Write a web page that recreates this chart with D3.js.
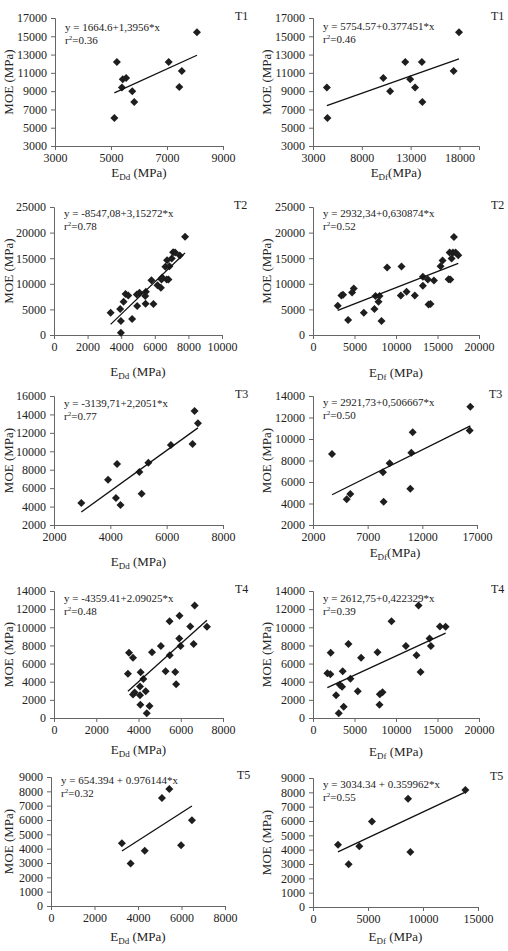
<!DOCTYPE html>
<html>
<head>
<meta charset="utf-8">
<script src="https://cdn.jsdelivr.net/npm/d3@7"></script>
<style>
  body { margin: 0; background: #fff; }
  svg text { font-family: "Liberation Serif", "Times New Roman", serif; fill: #222; }
</style>
</head>
<body>
<div id="chart"></div>
<script>
// data: MOE against E_Dd (left) and E_Df (right) for T1..T5
const xT1dd = [8070, 5210, 7060, 7530, 5540, 5420, 5390, 7440, 5760, 5830, 5120];
const yT1dd = [15450, 12200, 12200, 11200, 10450, 10300, 9400, 9450, 9000, 7800, 6050];
const xT1df = [17950, 12450, 14150, 17400, 10200, 12950, 4420, 13450, 10900, 14200, 4480];
const yT1df = [15450, 12200, 12200, 11200, 10450, 10300, 9400, 9400, 9000, 7800, 6050];

const xT2dd = [7800, 7090, 7210, 7490, 7010, 6730, 6630, 6870, 5800, 6440, 6400, 6710, 6810, 6160, 6360,
  4260, 4420, 4140, 3940, 3370, 3980, 4650, 3980, 4930, 5090, 5470, 5430, 5450, 5920, 4950];
const yT2dd = [19200, 16170, 16100, 15520, 14940, 14610, 13310, 13440, 10710, 11230, 10840, 10840, 10840, 9740, 9220,
  7990, 7730, 6490, 5060, 4350, 2730, 3120, 450, 7920, 8250, 8440, 7600, 6100, 6040, 5650];
const xT2df = [2980, 3420, 3620, 4230, 4710, 4910, 6120, 7400, 7530, 8010, 7890, 8250, 8930, 10660, 10580, 11270,
  12270, 13240, 13240, 13840, 13920, 14160, 14570, 15370, 15610, 16340, 16540, 16460, 16860, 17180, 16700, 16980, 17500];
const yT2df = [5710, 7730, 7860, 2920, 8310, 9090, 4350, 5060, 7600, 7600, 6490, 2730, 13180, 13380, 7730, 8440,
  7730, 11360, 9610, 10840, 5970, 6040, 10650, 13440, 14545, 10910, 10840, 16100, 16100, 16100, 14935, 19160, 15580];

const xT3dd = [6990, 7110, 6920, 6150, 5350, 5030, 4240, 3920, 4200, 4360, 5110, 2970];
const yT3dd = [14370, 13030, 10790, 10680, 8760, 7750, 8620, 6920, 4930, 4170, 5400, 4400];
const xT3df = [16390, 16330, 11120, 10990, 9010, 8400, 3740, 10900, 8460, 5410, 5080];
const yT3df = [13010, 10780, 10620, 8730, 7740, 6900, 8600, 5380, 4170, 4880, 4390];

const xT4dd = [6660, 5470, 5940, 6450, 7240, 5930, 6610, 5990, 5060, 4640, 5480, 3550, 3740, 3500, 4100, 5280,
  5740, 4230, 5780, 4070, 4340, 3820, 3740, 4070, 4090, 4520, 4390];
const yT4dd = [12390, 10670, 11260, 10090, 10050, 8770, 8150, 7930, 7930, 7240, 6910, 7200, 6650, 4870, 5050, 5160,
  5080, 4290, 3730, 3470, 2960, 2810, 2590, 2520, 1460, 1320, 510];
const xT4df = [12720, 9460, 15290, 15980, 14040, 4270, 14200, 11190, 7770, 2130, 5790, 12470, 1730, 2090, 3580,
  12960, 4510, 3220, 3500, 5390, 2780, 8370, 8050, 3700, 8010, 3100];
const yT4df = [12390, 10670, 10090, 10050, 8770, 8150, 7930, 7930, 7240, 7200, 6650, 6910, 4930, 4820, 5160,
  5080, 4330, 3670, 3440, 2960, 2520, 2850, 2630, 1240, 1460, 510];

const xT5dd = [5440, 5100, 6480, 3260, 4310, 5980, 3660];
const yT5dd = [8160, 7530, 5990, 4370, 3860, 4230, 2970];
const xT5df = [13850, 8640, 5360, 2270, 4210, 8850, 3240];
const yT5df = [8160, 7550, 5960, 4350, 4230, 3840, 2990];

// regression lines printed on each panel
const intercepts = [1664.6, 5754.57, -8547.08, 2932.34, -3139.71, 2921.73, -4359.41, 2612.75, 654.394, 3034.34];
const slopes = [1.3956, 0.377451, 3.15272, 0.630874, 2.2051, 0.506667, 2.09025, 0.422329, 0.976144, 0.359962];
const equations = [
  'y = 1664.6+1,3956*x', 'y = 5754.57+0.377451*x',
  'y = -8547,08+3,15272*x', 'y = 2932,34+0,630874*x',
  'y = -3139,71+2,2051*x', 'y = 2921,73+0,506667*x',
  'y = -4359.41+2.09025*x', 'y = 2612,75+0,422329*x',
  'y = 654.394 + 0.976144*x', 'y = 3034.34 + 0.359962*x'
];
const r2 = ['0.36', '0.46', '0.78', '0.52', '0.77', '0.50', '0.48', '0.39', '0.32', '0.55'];
const treatments = ['T1', 'T1', 'T2', 'T2', 'T3', 'T3', 'T4', 'T4', 'T5', 'T5'];
const xSubs = ['Dd', 'Df', 'Dd', 'Df', 'Dd', 'Df', 'Dd', 'Df', 'Dd', 'Df'];
const xUnits = [' (MPa)', '(MPa)', ' (MPa)', ' (MPa)', ' (MPa)', '(MPa)', ' (MPa)', ' (MPa)', ' (MPa)', ' (MPa)'];

// axis domains and tick labels
const xDomains = [[3000, 9000], [3000, 20000], [0, 10000], [0, 20000], [2000, 8000],
  [2000, 17000], [0, 8000], [0, 20000], [0, 8000], [0, 15000]];
const xTicks = [
  [3000, 5000, 7000, 9000], [3000, 8000, 13000, 18000],
  [0, 2000, 4000, 6000, 8000, 10000], [0, 5000, 10000, 15000, 20000],
  [2000, 4000, 6000, 8000], [2000, 7000, 12000, 17000],
  [0, 2000, 4000, 6000, 8000], [0, 5000, 10000, 15000, 20000],
  [0, 2000, 4000, 6000, 8000], [0, 5000, 10000, 15000]
];
const yDomains = [[3000, 17000], [3000, 17000], [0, 25000], [0, 25000], [2000, 16000],
  [2000, 14000], [0, 14000], [0, 14000], [0, 9000], [0, 9000]];
const yTicks = [
  d3.range(3000, 17001, 2000), d3.range(3000, 17001, 2000),
  d3.range(0, 25001, 5000), d3.range(0, 25001, 5000),
  d3.range(2000, 16001, 2000), d3.range(2000, 14001, 2000),
  d3.range(0, 14001, 2000), d3.range(0, 14001, 2000),
  d3.range(0, 9001, 1000), d3.range(0, 9001, 1000)
];

const xs = [xT1dd, xT1df, xT2dd, xT2df, xT3dd, xT3df, xT4dd, xT4df, xT5dd, xT5df];
const ys = [yT1dd, yT1df, yT2dd, yT2df, yT3dd, yT3df, yT4dd, yT4df, yT5dd, yT5df];

// layout: plot rectangles [left, top, right, bottom]
const frames = [
  [55, 18, 223, 146], [313, 18, 479, 146],
  [54, 207, 222, 335], [313, 207, 479, 335],
  [54, 396, 223, 525], [313, 396, 477, 525],
  [54, 591, 223, 718], [313, 591, 479, 718],
  [51, 777, 225, 906], [313, 778, 478, 907]
];
const titleGap = [31, 31, 41, 42, 41, 32, 36, 38, 35, 34];
const eqGap = [13, 12, 10, 10, 11, 10, 11, 11, 7, 10];

const svg = d3.select('#chart')
  .append('svg')
  .attr('width', 508)
  .attr('height', 951);

const diamond = 'M0,-4L4,0L0,4L-4,0Z';

xs.forEach((xv, i) => {
  const [l, t, r, b] = frames[i];
  const x = d3.scaleLinear().domain(xDomains[i]).range([l, r]);
  const y = d3.scaleLinear().domain(yDomains[i]).range([b, t]);
  const g = svg.append('g');

  const xAxis = g.append('g')
    .attr('transform', `translate(0,${b})`)
    .call(d3.axisBottom(x).tickValues(xTicks[i]).tickSize(4).tickPadding(3).tickFormat(d3.format('d')));
  const yAxis = g.append('g')
    .attr('transform', `translate(${l},0)`)
    .call(d3.axisLeft(y).tickValues(yTicks[i]).tickSize(4).tickPadding(4).tickFormat(d3.format('d')));
  [xAxis, yAxis].forEach(a => {
    a.attr('font-family', null).attr('font-size', null);
    a.selectAll('path,line').attr('stroke', '#666');
    a.selectAll('text').style('font-size', '12px').attr('fill', '#222');
  });

  // points
  g.selectAll('path.pt')
    .data(xv.map((d, k) => [d, ys[i][k]]))
    .enter()
    .append('path')
    .attr('class', 'pt')
    .attr('d', diamond)
    .attr('transform', d => `translate(${x(d[0])},${y(d[1])})`)
    .attr('fill', '#1e1e1e');

  // trend line
  const x0 = d3.min(xv);
  const x1 = d3.max(xv);
  g.append('line')
    .attr('x1', x(x0)).attr('y1', y(intercepts[i] + slopes[i] * x0))
    .attr('x2', x(x1)).attr('y2', y(intercepts[i] + slopes[i] * x1))
    .attr('stroke', '#111')
    .attr('stroke-width', 1.3);

  // equation and r²
  g.append('text')
    .attr('x', l + 10).attr('y', t + eqGap[i])
    .style('font-size', '11px')
    .text(equations[i]);
  const rt = g.append('text')
    .attr('x', l + 10).attr('y', t + eqGap[i] + 13)
    .style('font-size', '11px');
  rt.append('tspan').text('r');
  rt.append('tspan').attr('dy', -4).style('font-size', '7px').text('2');
  rt.append('tspan').attr('dy', 4).text('=' + r2[i]);

  // treatment label
  g.append('text')
    .attr('x', r + 12).attr('y', t + 2)
    .style('font-size', '12px')
    .text(treatments[i]);

  // axis titles
  const xt = g.append('text')
    .attr('x', (l + r) / 2).attr('y', b + titleGap[i])
    .attr('text-anchor', 'middle')
    .style('font-size', '13px');
  xt.append('tspan').text('E');
  xt.append('tspan').attr('dy', 3).style('font-size', '9px').text(xSubs[i]);
  xt.append('tspan').attr('dy', -3).text(xUnits[i]);

  g.append('text')
    .attr('transform', `translate(${i % 2 === 0 ? 13 : 271},${(t + b) / 2}) rotate(-90)`)
    .attr('text-anchor', 'middle')
    .style('font-size', '13px')
    .text('MOE (MPa)');
});
</script>
</body>
</html>
